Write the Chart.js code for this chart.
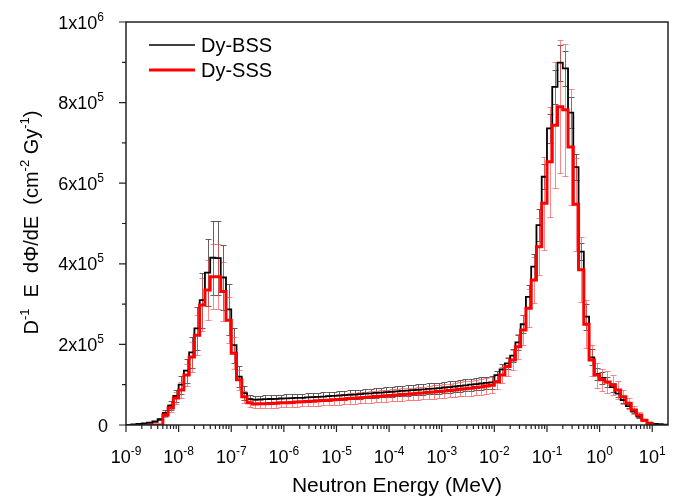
<!DOCTYPE html>
<html>
<head>
<meta charset="utf-8">
<script src="https://cdn.jsdelivr.net/npm/chart.js@4.4.1/dist/chart.umd.min.js"></script>
<style>
  html, body { margin: 0; padding: 0; background: #ffffff; }
  #wrap { width: 678px; height: 502px; }
</style>
</head>
<body>
<div id="wrap"><canvas id="c" width="678" height="502"></canvas></div>
<script>
// ---------- DATA ----------
// Energy bin grid: 10 bins per decade, lower edges = mantissa x 10^decade (MeV)
const decades = [-9, -8, -7, -6, -5, -4, -3, -2, -1, 0, 1];
const mantissas = [1.0, 1.259, 1.585, 1.995, 2.512, 3.162, 3.981, 5.012, 6.310, 7.943];

// Dy-BSS spectrum, one value per bin (bins 0..102)
const bssValues = [
  500, 1500, 2500, 4000, 6000, 9000, 14000, 30000, 48000, 72000,
  100000, 135000, 180000, 240000, 310000, 378000, 415000, 414000, 366000, 287000,
  198000, 120000, 79000, 64000, 63000, 63500, 64200, 64500, 65000, 65700,
  66000, 66500, 67200, 67500, 68500, 69000, 70000, 70500, 71500, 72200,
  73000, 74000, 75000, 75500, 76500, 77700, 78500, 79500, 80500, 81500,
  82500, 83500, 84700, 85500, 86500, 87500, 88500, 89700, 90500, 91500,
  93000, 94000, 95500, 97000, 98500, 100000, 101500, 103000, 104500, 106000,
  124000, 138000, 153000, 172000, 205000, 250000, 318000, 393000, 496000, 616000,
  736000, 839000, 899000, 885000, 775000, 640000, 430000, 269000, 168000, 127000,
  117000, 106000, 94000, 78000, 62000, 47000, 33000, 21000, 12000, 6000,
  3000, 2000, 1000
];
// Dy-SSS spectrum (null = no data in that bin)
const sssValues = [
  null, null, null, null, 0, 0, 0, 25000, 42000, 67000,
  87000, 124000, 169000, 223000, 298000, 335000, 368000, 368000, 331000, 260000,
  178000, 112000, 70000, 55000, 52000, 52500, 53000, 53500, 54000, 55000,
  55500, 56000, 57000, 57500, 58500, 59000, 60000, 61000, 61500, 62500,
  63500, 64500, 65500, 66500, 67500, 68500, 69500, 70500, 71500, 72500,
  73500, 74500, 75500, 76500, 77500, 78500, 79500, 81000, 82000, 83000,
  84500, 85500, 87000, 88500, 90000, 91500, 93000, 94500, 96500, 98500,
  107000, 124000, 145000, 161000, 194000, 236000, 290000, 360000, 442000, 550000,
  653000, 744000, 790000, 782000, 690000, 548000, 385000, 250000, 161000, 124000,
  112000, 107000, 99000, 87000, 70000, 54000, 37000, 25000, 12000, 3000,
  null, null, null
];
// relative uncertainties (%) per bin
const bssErrPct = [
  20, 20, 20, 20, 20, 20, 20, 22, 22, 22,
  22, 22, 22, 22, 22, 22, 22, 22, 22, 22,
  22, 22, 22, 15, 15, 15, 15, 15, 15, 15,
  15, 15, 15, 15, 15, 15, 15, 15, 15, 15,
  15, 15, 15, 15, 15, 15, 15, 15, 15, 15,
  15, 15, 15, 15, 15, 15, 15, 15, 15, 15,
  15, 15, 15, 15, 15, 15, 15, 15, 15, 15,
  9, 9, 9, 9, 9, 9, 9, 8, 8, 5,
  5, 5, 5, 5, 5, 5, 5, 12, 12, 12,
  12, 12, 12, 12, 12, 12, 12, 12, 12, 12,
  12, 12, 12
];
const sssErrPct = [
  0, 0, 0, 0, 0, 0, 0, 22, 22, 22,
  22, 22, 22, 22, 22, 22, 22, 22, 22, 22,
  22, 22, 22, 20, 20, 20, 20, 20, 20, 20,
  20, 20, 20, 20, 20, 20, 20, 20, 20, 20,
  20, 20, 20, 20, 20, 20, 20, 20, 20, 20,
  20, 20, 20, 20, 20, 20, 20, 20, 20, 20,
  20, 20, 20, 20, 20, 20, 20, 20, 20, 20,
  16, 16, 16, 16, 16, 16, 16, 16, 16, 21,
  21, 21, 21, 21, 21, 21, 21, 24, 24, 25,
  25, 25, 25, 25, 25, 25, 25, 25, 25, 25,
  0, 0, 0
];
const seriesNames = ['Dy-BSS', 'Dy-SSS'];
const xTickExponents = [-9, -8, -7, -6, -5, -4, -3, -2, -1, 0, 1];
const yTickValues = [0, 200000, 400000, 600000, 800000, 1000000];
const yTickLabels = [['0', ''], ['2x10', '5'], ['4x10', '5'], ['6x10', '5'], ['8x10', '5'], ['1x10', '6']];
const xAxisTitle = 'Neutron Energy (MeV)';

// ---------- BUILD ----------
const edges = [];
decades.forEach(d => mantissas.forEach(m => edges.push(m * Math.pow(10, d))));
const nBins = bssValues.length;

function stepPoints(vals) {
  const pts = [];
  let last = -1;
  for (let k = 0; k < vals.length; k++) {
    if (vals[k] !== null) { pts.push({ x: edges[k], y: vals[k] }); last = k; }
  }
  pts.push({ x: edges[last + 1], y: last === vals.length - 1 ? vals[last] : 0 });
  return pts;
}

const FONT = '"Liberation Sans", Arial, "DejaVu Sans", sans-serif';

function drawParts(ctx, parts, x, y, align, baseSize, supSize, rise) {
  let total = 0;
  const widths = parts.map(p => {
    ctx.font = (p[1] ? supSize : baseSize) + 'px ' + FONT;
    const w = ctx.measureText(p[0]).width;
    total += w;
    return w;
  });
  let cx = x;
  if (align === 'right') cx = x - total;
  else if (align === 'center') cx = x - total / 2;
  ctx.textAlign = 'left';
  ctx.textBaseline = 'alphabetic';
  parts.forEach((p, i) => {
    ctx.font = (p[1] ? supSize : baseSize) + 'px ' + FONT;
    ctx.fillText(p[0], cx, p[1] ? y - rise : y);
    cx += widths[i];
  });
}

const errorBarPlugin = {
  id: 'errorBars',
  beforeDatasetsDraw(chart) {
    const ctx = chart.ctx;
    const xs = chart.scales.x, ys = chart.scales.y;
    const a = chart.chartArea;
    ctx.save();
    ctx.beginPath();
    ctx.rect(a.left, a.top - 40, a.right - a.left, a.bottom - a.top + 40);
    ctx.clip();
    const sets = [
      { vals: bssValues, pct: bssErrPct, color: 'rgba(70,70,70,0.85)' },
      { vals: sssValues, pct: sssErrPct, color: 'rgba(255,70,70,0.65)' }
    ];
    sets.forEach(s => {
      ctx.strokeStyle = s.color;
      ctx.lineWidth = 1;
      for (let k = 0; k < nBins; k++) {
        const v = s.vals[k];
        if (v === null || !s.pct[k]) continue;
        const e = v * s.pct[k] / 100;
        const xc = Math.sqrt(edges[k] * edges[k + 1]);
        const px = Math.round(xs.getPixelForValue(xc)) + 0.5;
        const y1 = Math.round(ys.getPixelForValue(v + e)) + 0.5;
        const y2 = Math.round(ys.getPixelForValue(Math.max(v - e, 0))) + 0.5;
        ctx.beginPath();
        ctx.moveTo(px, y1); ctx.lineTo(px, y2);
        ctx.moveTo(px - 3, y1); ctx.lineTo(px + 3, y1);
        ctx.moveTo(px - 3, y2); ctx.lineTo(px + 3, y2);
        ctx.stroke();
      }
    });
    ctx.restore();
  },
  afterDraw(chart) {
    const ctx = chart.ctx;
    const xs = chart.scales.x, ys = chart.scales.y;
    const a = chart.chartArea;
    ctx.save();
    // frame
    ctx.strokeStyle = '#222';
    ctx.lineWidth = 1.5;
    ctx.strokeRect(a.left, a.top, a.right - a.left, a.bottom - a.top);
    // x ticks (major + minor)
    ctx.lineWidth = 1.2;
    ctx.beginPath();
    decades.forEach(d => {
      for (let m = 1; m <= 9; m++) {
        const val = m * Math.pow(10, d);
        if (val < xs.min * 0.999 || val > xs.max) continue;
        const px = xs.getPixelForValue(val);
        const len = m === 1 ? 7 : 4;
        ctx.moveTo(px, a.bottom); ctx.lineTo(px, a.bottom + len);
      }
    });
    // y ticks
    for (let v = 0; v <= 1000000; v += 100000) {
      const py = ys.getPixelForValue(v);
      const len = (v % 200000 === 0) ? 7 : 4;
      ctx.moveTo(a.left, py); ctx.lineTo(a.left - len, py);
    }
    ctx.stroke();
    // x tick labels
    ctx.fillStyle = '#000';
    xTickExponents.forEach(ex => {
      const px = xs.getPixelForValue(Math.pow(10, ex));
      const sup = ex < 0 ? '-' + Math.abs(ex) : String(ex);
      drawParts(ctx, [['10', false], [sup, true]], px, a.bottom + 38, 'center', 18, 12, 8);
    });
    // y tick labels
    yTickValues.forEach((v, i) => {
      const py = ys.getPixelForValue(v);
      const lab = yTickLabels[i];
      if (lab[1]) drawParts(ctx, [[lab[0], false], [lab[1], true]], 104, py + 6.5, 'right', 18, 12, 8);
      else drawParts(ctx, [[lab[0], false]], 108, py + 6.5, 'right', 18, 12, 8);
    });
    // x axis title
    ctx.font = '21px ' + FONT;
    ctx.textAlign = 'center';
    ctx.textBaseline = 'alphabetic';
    ctx.fillText(xAxisTitle, (a.left + a.right) / 2, 492);
    // y axis title (rotated)
    ctx.save();
    ctx.translate(38, (a.top + a.bottom) / 2 - 1);
    ctx.rotate(-Math.PI / 2);
    drawParts(ctx, [['D', false], ['-1', true], ['  E  d\u03A6/dE  (cm', false], ['-2', true], [' Gy', false], ['-1', true], [')', false]],
      0, 0, 'center', 20, 13, 9);
    ctx.restore();
    // legend
    ctx.lineWidth = 1.5;
    ctx.strokeStyle = '#000';
    ctx.beginPath(); ctx.moveTo(149, 45); ctx.lineTo(195, 45); ctx.stroke();
    ctx.lineWidth = 3;
    ctx.strokeStyle = '#ff0000';
    ctx.beginPath(); ctx.moveTo(149, 70); ctx.lineTo(195, 70); ctx.stroke();
    ctx.fillStyle = '#000';
    ctx.font = '20px ' + FONT;
    ctx.textAlign = 'left';
    ctx.fillText(seriesNames[0], 201, 52);
    ctx.fillText(seriesNames[1], 201, 77);
    ctx.restore();
  }
};

new Chart(document.getElementById('c'), {
  type: 'line',
  data: {
    datasets: [
      { label: seriesNames[0], data: stepPoints(bssValues), borderColor: '#000000', borderWidth: 1.8,
        stepped: 'before', pointRadius: 0, fill: false, order: 1 },
      { label: seriesNames[1], data: stepPoints(sssValues), borderColor: '#ff0000', borderWidth: 3,
        stepped: 'before', pointRadius: 0, fill: false, order: 0 }
    ]
  },
  options: {
    responsive: false,
    animation: false,
    devicePixelRatio: 1,
    layout: { padding: { left: 126, right: 10, top: 22, bottom: 77 } },
    plugins: { legend: { display: false }, tooltip: { enabled: false } },
    scales: {
      x: { type: 'logarithmic', min: 1e-9, max: edges[103], display: false },
      y: { type: 'linear', min: 0, max: 1000000, display: false }
    }
  },
  plugins: [errorBarPlugin]
});
</script>
</body>
</html>
